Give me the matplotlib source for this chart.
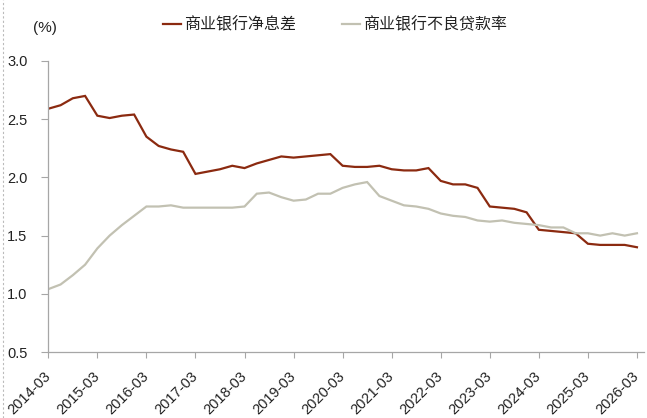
import matplotlib
matplotlib.use("Agg")
import matplotlib.pyplot as plt
from matplotlib.lines import Line2D
import numpy as np

# ---- data (quarterly, 2014Q1 .. 2026Q1) ----
nim = [2.59, 2.62, 2.68, 2.70, 2.53, 2.51, 2.53, 2.54,
       2.35, 2.27, 2.24, 2.22, 2.03, 2.05, 2.07, 2.10,
       2.08, 2.12, 2.15, 2.18, 2.17, 2.18, 2.19, 2.20,
       2.10, 2.09, 2.09, 2.10, 2.07, 2.06, 2.06, 2.08,
       1.97, 1.94, 1.94, 1.91, 1.75, 1.74, 1.73, 1.70,
       1.55, 1.54, 1.53, 1.52, 1.43, 1.42, 1.42, 1.42,
       1.40]
npl = [1.04, 1.08, 1.16, 1.25, 1.39, 1.50, 1.59, 1.67,
       1.75, 1.75, 1.76, 1.74, 1.74, 1.74, 1.74, 1.74,
       1.75, 1.86, 1.87, 1.83, 1.80, 1.81, 1.86, 1.86,
       1.91, 1.94, 1.96, 1.84, 1.80, 1.76, 1.75, 1.73,
       1.69, 1.67, 1.66, 1.63, 1.62, 1.63, 1.61, 1.60,
       1.59, 1.57, 1.57, 1.52, 1.52, 1.50, 1.52, 1.50,
       1.52]
tick_labels = ["2014-03", "2015-03", "2016-03", "2017-03", "2018-03",
               "2019-03", "2020-03", "2021-03", "2022-03", "2023-03",
               "2024-03", "2025-03", "2026-03"]
yticks = [0.5, 1.0, 1.5, 2.0, 2.5, 3.0]
series_names = ["商业银行净息差", "商业银行不良贷款率"]

W, H = 647, 418
fig = plt.figure(figsize=(W / 100, H / 100), dpi=100)
ax = fig.add_axes([48.3 / W, 1 - 352 / H, (644.3 - 48.3) / W, (352 - 61) / H])

x = np.arange(len(nim))
c_nim = "#8b2a10"
c_npl = "#c2c1b2"
l1, = ax.plot(x, nim, color=c_nim, lw=1.6, solid_joinstyle="miter")
l2, = ax.plot(x, npl, color=c_npl, lw=1.6, solid_joinstyle="miter")

ax.set_xlim(0, 48.6)
ax.set_ylim(0.5, 3.0)
ax.set_yticks(yticks)
ax.set_yticklabels([f"{v:.1f}" for v in yticks])
ax.set_xticks(np.arange(0, len(nim), 4))
ax.set_xticklabels(tick_labels, rotation=45, ha="right", va="center",
                   rotation_mode="anchor")

for s in ["top", "right"]:
    ax.spines[s].set_visible(False)
for s in ["left", "bottom"]:
    ax.spines[s].set_color("#a6a6a6")
    ax.spines[s].set_linewidth(0.9)

tfont = dict(family=["Liberation Sans", "DejaVu Sans"], size=11)
for lab in ax.get_xticklabels() + ax.get_yticklabels():
    lab.set_fontfamily(["Liberation Sans", "DejaVu Sans"])
    lab.set_fontsize(10.5)
    lab.set_color("#222222")
ax.tick_params(axis="y", direction="out", length=5, color="#a6a6a6", pad=10)
ax.tick_params(axis="x", direction="out", length=4, color="#a6a6a6", pad=12)

fig.text(45 / W, 1 - 28 / H, "(%)", ha="center", va="center",
         color="#222222", **tfont)

leg = fig.legend([l1, l2], series_names, ncol=2, frameon=False,
                 loc="center", bbox_to_anchor=(335 / W, 1 - 25 / H),
                 prop=dict(family=["Noto Sans CJK SC", "DejaVu Sans"], size=11.5),
                 handlelength=1.1, handletextpad=0.2, columnspacing=2.9,
                 borderpad=0, borderaxespad=0)
for t in leg.get_texts():
    t.set_color("#222222")

# dotted border at left edge of screenshot
fig.add_artist(Line2D([3 / W, 3 / W], [0, 1], transform=fig.transFigure,
                      color="#bbbbbb", lw=0.8, ls=(0, (2, 2))))

fig.savefig("out.png", dpi=100)
